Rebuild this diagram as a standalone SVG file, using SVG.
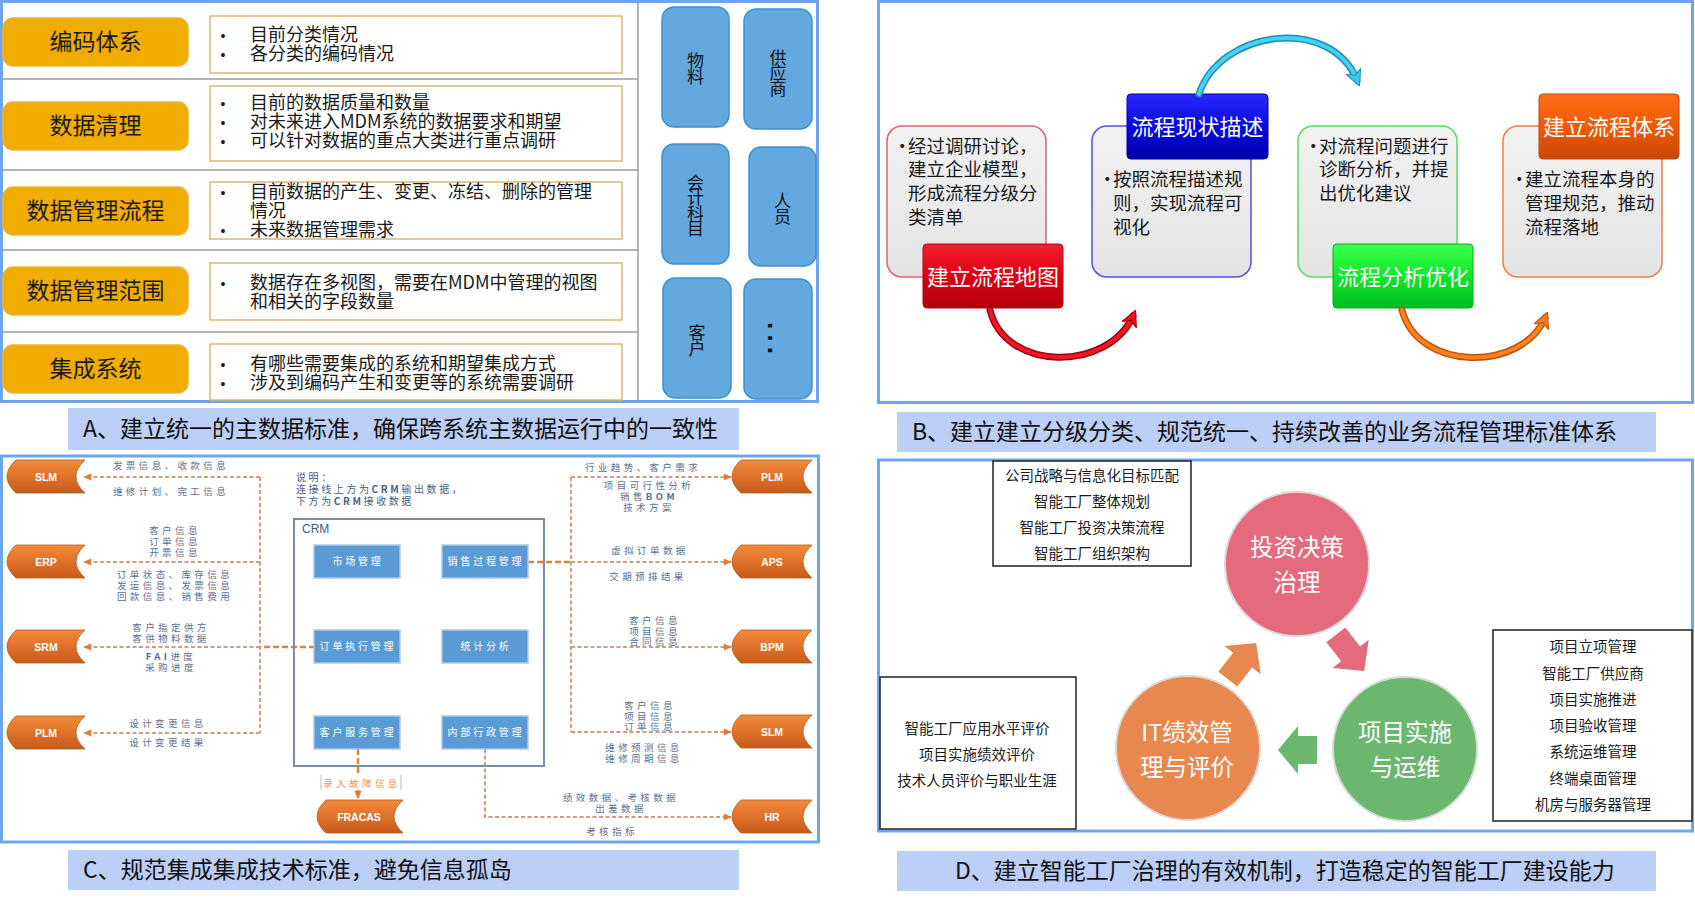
<svg xmlns="http://www.w3.org/2000/svg" width="1695" height="898" viewBox="0 0 1695 898">
<defs>
<style>
.panel{fill:#fff;stroke:#6EA6EE;stroke-width:3}
.cap{fill:#BCCFF7}
.capt{font-family:"Noto Sans CJK SC","Noto Sans",sans-serif;font-size:23px;fill:#111}
.ob{fill:#F1AC00;stroke:#EDB33A;stroke-width:1.5}
.obt{font-family:"Noto Sans CJK SC",sans-serif;font-size:23px;fill:#1a1a1a;text-anchor:middle}
.tb{fill:#fff;stroke:#D5B977;stroke-width:1.5}
.bt{font-family:"Noto Sans CJK SC",sans-serif;font-size:18px;fill:#1a1a1a}
.bul{font-family:"Liberation Sans",sans-serif;font-size:14px;fill:#1a1a1a;text-anchor:middle}
.sep{stroke:#9a9a9a;stroke-width:1.5}
.tile{fill:#64A8E0;stroke:#3D90D0;stroke-width:1.5}
.tilet{font-family:"Noto Sans CJK SC",sans-serif;font-size:17px;fill:#111;text-anchor:middle;writing-mode:vertical-rl;text-orientation:upright;letter-spacing:-1.5px}
.card{stroke-width:1.5}
.cardt{font-family:"Noto Sans CJK SC",sans-serif;font-size:18.5px;fill:#1a1a1a}
.lab{font-family:"Noto Sans CJK SC",sans-serif;font-size:22px;fill:#fff;text-anchor:middle}
.sys{fill:url(#og);stroke:#B85A20;stroke-width:0.8}
.syst{font-family:"Liberation Sans",Arial,sans-serif;font-weight:bold;font-size:10.5px;fill:#fff;text-anchor:middle}
.ib{fill:#5B9BD5;stroke:#A9C8E8;stroke-width:1.5}
.ibt{font-family:"Noto Sans CJK SC",sans-serif;font-size:10px;letter-spacing:2.8px;fill:#fff;text-anchor:middle}
.lbl{font-family:"Noto Sans CJK SC",sans-serif;font-size:9.5px;letter-spacing:3.4px;fill:#5C6F8E;text-anchor:middle}
.note{font-family:"Noto Sans CJK SC",sans-serif;font-size:10px;letter-spacing:2.6px;fill:#4C5E80}
.dl{fill:none;stroke:#CF9C84;stroke-width:2;stroke-dasharray:4 2.5}
.dlo{fill:none;stroke:#E57F3A;stroke-width:2.5;stroke-dasharray:6 3}
.db{fill:#fff;stroke:#222;stroke-width:1.5}
.dt{font-family:"Noto Sans CJK SC",sans-serif;font-size:14.5px;fill:#1a1a1a;text-anchor:middle}
.ct{font-family:"Noto Sans CJK SC",sans-serif;font-size:23.5px;fill:#fff;text-anchor:middle}
.circ{stroke:#d9d9d9;stroke-width:2}
</style>
<linearGradient id="og" x1="0" y1="0" x2="0" y2="1"><stop offset="0" stop-color="#F38A3A"/><stop offset="1" stop-color="#C85A1A"/></linearGradient>
<linearGradient id="cg" x1="0" y1="0" x2="0" y2="1"><stop offset="0" stop-color="#F3F3F3"/><stop offset="1" stop-color="#E3E3E3"/></linearGradient>
<linearGradient id="gr" x1="0" y1="0" x2="0" y2="1"><stop offset="0" stop-color="#F22030"/><stop offset="0.5" stop-color="#DD0012"/><stop offset="1" stop-color="#B0000C"/></linearGradient>
<linearGradient id="gb" x1="0" y1="0" x2="0" y2="1"><stop offset="0" stop-color="#2828FF"/><stop offset="0.5" stop-color="#0A0AE0"/><stop offset="1" stop-color="#0000A8"/></linearGradient>
<linearGradient id="gg" x1="0" y1="0" x2="0" y2="1"><stop offset="0" stop-color="#3CFF4C"/><stop offset="0.5" stop-color="#10E828"/><stop offset="1" stop-color="#00BC20"/></linearGradient>
<linearGradient id="go" x1="0" y1="0" x2="0" y2="1"><stop offset="0" stop-color="#FF6E14"/><stop offset="0.5" stop-color="#F05A08"/><stop offset="1" stop-color="#C84806"/></linearGradient>
<marker id="ah" viewBox="0 0 10 10" refX="9" refY="5" markerWidth="9" markerHeight="8" markerUnits="userSpaceOnUse" orient="auto"><path d="M0,0.5 L10,5 L0,9.5 z" fill="#E57A35"/></marker>
<marker id="mr" viewBox="0 0 10 10" refX="6" refY="5" markerWidth="16" markerHeight="16" markerUnits="userSpaceOnUse" orient="auto"><path d="M0,0 L10,5 L0,10 L3,5 z" fill="#E8101E" stroke="#9A0010" stroke-width="0.6"/></marker>
<marker id="mc" viewBox="0 0 10 10" refX="6" refY="5" markerWidth="16" markerHeight="16" markerUnits="userSpaceOnUse" orient="auto"><path d="M0,0 L10,5 L0,10 L3,5 z" fill="#3CC8E8" stroke="#1A90B8" stroke-width="0.6"/></marker>
<marker id="mo" viewBox="0 0 10 10" refX="6" refY="5" markerWidth="16" markerHeight="16" markerUnits="userSpaceOnUse" orient="auto"><path d="M0,0 L10,5 L0,10 L3,5 z" fill="#F47A20" stroke="#C0500A" stroke-width="0.6"/></marker>
</defs>

<rect width="1695" height="898" fill="#fff"/>

<!-- Panel A -->
<g id="panelA">
<rect class="panel" x="1.5" y="1.5" width="816" height="400"/>
<g class="sep">
<line x1="3" y1="79" x2="638" y2="79"/>
<line x1="3" y1="170" x2="638" y2="170"/>
<line x1="3" y1="250" x2="638" y2="250"/>
<line x1="3" y1="332" x2="638" y2="332"/>
<line x1="638" y1="3" x2="638" y2="400"/>
</g>
<g id="a-row1">
<rect class="ob" x="3" y="18" width="185" height="48" rx="10"/>
<text class="obt" x="95.5" y="50">编码体系</text>
<rect class="tb" x="210" y="16" width="412" height="57"/>
<text class="bul"><tspan x="223" y="41">•</tspan><tspan x="223" y="60">•</tspan></text>
<text class="bt"><tspan x="250" y="41">目前分类情况</tspan><tspan x="250" y="60">各分类的编码情况</tspan></text>
</g>
<g id="a-row2">
<rect class="ob" x="3" y="102" width="185" height="48" rx="10"/>
<text class="obt" x="95.5" y="134">数据清理</text>
<rect class="tb" x="210" y="86" width="412" height="75"/>
<text class="bul"><tspan x="223" y="109">•</tspan><tspan x="223" y="128">•</tspan><tspan x="223" y="147">•</tspan></text>
<text class="bt"><tspan x="250" y="109">目前的数据质量和数量</tspan><tspan x="250" y="128">对未来进入MDM系统的数据要求和期望</tspan><tspan x="250" y="147">可以针对数据的重点大类进行重点调研</tspan></text>
</g>
<g id="a-row3">
<rect class="ob" x="3" y="187" width="185" height="48" rx="10"/>
<text class="obt" x="95.5" y="219">数据管理流程</text>
<rect class="tb" x="210" y="182" width="412" height="57"/>
<text class="bul"><tspan x="223" y="198">•</tspan><tspan x="223" y="236">•</tspan></text>
<text class="bt"><tspan x="250" y="198">目前数据的产生、变更、冻结、删除的管理</tspan><tspan x="250" y="217">情况</tspan><tspan x="250" y="236">未来数据管理需求</tspan></text>
</g>
<g id="a-row4">
<rect class="ob" x="3" y="267" width="185" height="48" rx="10"/>
<text class="obt" x="95.5" y="299">数据管理范围</text>
<rect class="tb" x="210" y="263" width="412" height="57"/>
<text class="bul" x="223" y="289">•</text>
<text class="bt"><tspan x="250" y="289">数据存在多视图，需要在MDM中管理的视图</tspan><tspan x="250" y="308">和相关的字段数量</tspan></text>
</g>
<g id="a-row5">
<rect class="ob" x="3" y="345" width="185" height="48" rx="10"/>
<text class="obt" x="95.5" y="377">集成系统</text>
<rect class="tb" x="210" y="344" width="412" height="56"/>
<text class="bul"><tspan x="223" y="370">•</tspan><tspan x="223" y="389">•</tspan></text>
<text class="bt"><tspan x="250" y="370">有哪些需要集成的系统和期望集成方式</tspan><tspan x="250" y="389">涉及到编码产生和变更等的系统需要调研</tspan></text>
</g>
<g id="a-tile-wuliao"><rect class="tile" x="662" y="7" width="67" height="120" rx="12"/>
<text class="tilet" x="695.5" y="68">物料</text></g>
<g id="a-tile-gys"><rect class="tile" x="744" y="9" width="68" height="120" rx="12"/>
<text class="tilet" x="778" y="72">供应商</text></g>
<g id="a-tile-kj"><rect class="tile" x="662" y="144" width="67" height="120" rx="12"/>
<text class="tilet" x="695.5" y="205">会计科目</text></g>
<g id="a-tile-ry"><rect class="tile" x="749" y="147" width="67" height="119" rx="12"/>
<text class="tilet" x="782.5" y="208">人员</text></g>
<g id="a-tile-kh"><rect class="tile" x="663" y="278" width="68" height="120" rx="12"/>
<text class="tilet" x="697" y="340">客户</text></g>
<g id="a-tile-more"><rect class="tile" x="744" y="279" width="68" height="120" rx="12"/>
<text x="770" y="340" transform="rotate(90 770 338)" font-family="Liberation Sans, sans-serif" font-size="39" fill="#111" text-anchor="middle">…</text></g>
</g>
<g id="capA"><rect class="cap" x="68" y="408" width="671" height="42"/>
<text class="capt" x="83" y="437" font-size="24">A、建立统一的主数据标准，确保跨系统主数据运行中的一致性</text></g>

<!-- Panel B -->
<g id="panelB">
<rect class="panel" x="878.5" y="1.5" width="814" height="401"/>
<g id="b-card1">
<rect class="card" x="887" y="126" width="159" height="151" rx="15" fill="url(#cg)" stroke="#E36070"/>
<text class="cardt"><tspan x="893" y="153">•</tspan><tspan x="908" y="153">经过调研讨论，</tspan><tspan x="908" y="176">建立企业模型，</tspan><tspan x="908" y="200">形成流程分级分</tspan><tspan x="908" y="224">类清单</tspan></text>
<rect x="923" y="244" width="140" height="64" rx="4" fill="url(#gr)" stroke="#C00010"/>
<text class="lab" x="993" y="285">建立流程地图</text>
</g>
<g id="b-card2">
<rect class="card" x="1092" y="126" width="159" height="151" rx="15" fill="url(#cg)" stroke="#5050E8"/>
<text class="cardt"><tspan x="1098" y="186">•</tspan><tspan x="1113" y="186">按照流程描述规</tspan><tspan x="1113" y="210">则，实现流程可</tspan><tspan x="1113" y="234">视化</tspan></text>
<rect x="1127" y="94" width="141" height="65" rx="4" fill="url(#gb)" stroke="#0000A0"/>
<text class="lab" x="1197.5" y="135">流程现状描述</text>
</g>
<g id="b-card3">
<rect class="card" x="1298" y="126" width="159" height="151" rx="15" fill="url(#cg)" stroke="#50E060"/>
<text class="cardt"><tspan x="1304" y="153">•</tspan><tspan x="1319" y="153">对流程问题进行</tspan><tspan x="1319" y="176">诊断分析，并提</tspan><tspan x="1319" y="200">出优化建议</tspan></text>
<rect x="1333" y="244" width="140" height="64" rx="4" fill="url(#gg)" stroke="#00B020"/>
<text class="lab" x="1403" y="285">流程分析优化</text>
</g>
<g id="b-card4">
<rect class="card" x="1503" y="126" width="159" height="151" rx="15" fill="url(#cg)" stroke="#F08040"/>
<text class="cardt"><tspan x="1510" y="186">•</tspan><tspan x="1525" y="186">建立流程本身的</tspan><tspan x="1525" y="210">管理规范，推动</tspan><tspan x="1525" y="234">流程落地</tspan></text>
<rect x="1539" y="94" width="140" height="65" rx="4" fill="url(#go)" stroke="#C04808"/>
<text class="lab" x="1609" y="135">建立流程体系</text>
</g>
<g id="b-connectors" fill="none" stroke-linecap="round">
<path d="M990,310 C1005,372 1108,372 1133,316" stroke="#9A0010" stroke-width="7"/>
<path d="M990,310 C1005,372 1108,372 1133,316" stroke="#EE1826" stroke-width="4" marker-end="url(#mr)"/>
<path d="M1199,94 C1220,30 1330,15 1357,80" stroke="#1A90B8" stroke-width="7"/>
<path d="M1199,94 C1220,30 1330,15 1357,80" stroke="#48D0F0" stroke-width="4" marker-end="url(#mc)"/>
<path d="M1402,310 C1418,372 1522,372 1545,318" stroke="#C0500A" stroke-width="7"/>
<path d="M1402,310 C1418,372 1522,372 1545,318" stroke="#F8821E" stroke-width="4" marker-end="url(#mo)"/>
</g>
</g>
<g id="capB"><rect class="cap" x="897" y="412" width="759" height="40"/>
<text class="capt" x="912" y="440">B、建立建立分级分类、规范统一、持续改善的业务流程管理标准体系</text></g>

<!-- Panel C -->
<g id="panelC">
<rect class="panel" x="1.5" y="456" width="817" height="386"/>
<g id="c-note">
<text class="note"><tspan x="296" y="481">说明：</tspan><tspan x="296" y="493">连接线上方为<tspan font-weight="bold">CRM</tspan>输出数据，</tspan><tspan x="296" y="505">下方为<tspan font-weight="bold">CRM</tspan>接收数据</tspan></text>
</g>
<g id="c-connectors">
<path class="dl" d="M260,477 V733"/>
<path class="dl" d="M260,477 H84" marker-end="url(#ah)"/>
<path class="dl" d="M260,562 H84" marker-end="url(#ah)"/>
<path class="dl" d="M260,647 H84" marker-end="url(#ah)"/>
<path class="dl" d="M260,733 H84" marker-end="url(#ah)"/>
<path class="dlo" d="M315,647 H260"/>
<path class="dl" d="M571,477 V732"/>
<path class="dl" d="M571,477 H731" marker-end="url(#ah)"/>
<path class="dl" d="M571,562 H731" marker-end="url(#ah)"/>
<path class="dl" d="M571,647 H731" marker-end="url(#ah)"/>
<path class="dl" d="M571,732 H731" marker-end="url(#ah)"/>
<path class="dlo" d="M528,562 H571"/>
<path class="dl" d="M485,749 V817 H731" marker-end="url(#ah)"/>
<path class="dlo" d="M358,749 V798" stroke-width="2" marker-end="url(#ah)"/>
<rect x="321" y="776" width="80" height="14" fill="#fff"/>
<line x1="321" y1="775" x2="321" y2="790" stroke="#bbb"/>
<line x1="401" y1="775" x2="401" y2="790" stroke="#bbb"/>
<text class="lbl" x="362" y="787" style="fill:#E8935A">录入故障信息</text>
</g>
<g id="c-labels">
<text class="lbl" x="171" y="469">发票信息、收款信息</text>
<text class="lbl" x="171" y="495">维修计划、完工信息</text>
<text class="lbl"><tspan x="175" y="534">客户信息</tspan><tspan x="175" y="545">订单信息</tspan><tspan x="175" y="556">开票信息</tspan></text>
<text class="lbl"><tspan x="175" y="578">订单状态、库存信息</tspan><tspan x="175" y="589">发运信息、发票信息</tspan><tspan x="175" y="600">回款信息、销售费用</tspan></text>
<text class="lbl"><tspan x="171" y="631">客户指定供方</tspan><tspan x="171" y="642">客供物料数据</tspan></text>
<text class="lbl"><tspan x="171" y="660"><tspan font-weight="bold">FAI</tspan>进度</tspan><tspan x="171" y="671">采购进度</tspan></text>
<text class="lbl" x="168" y="727">设计变更信息</text>
<text class="lbl" x="168" y="746">设计变更结果</text>
<text class="lbl" x="643" y="471">行业趋势、客户需求</text>
<text class="lbl"><tspan x="649" y="489">项目可行性分析</tspan><tspan x="649" y="500">销售<tspan font-weight="bold">BOM</tspan></tspan><tspan x="649" y="511">技术方案</tspan></text>
<text class="lbl" x="650" y="554">虚拟订单数据</text>
<text class="lbl" x="648" y="580">交期预排结果</text>
<text class="lbl"><tspan x="655" y="624">客户信息</tspan><tspan x="655" y="635">项目信息</tspan><tspan x="655" y="645">合同信息</tspan></text>
<text class="lbl"><tspan x="650" y="709">客户信息</tspan><tspan x="650" y="720">项目信息</tspan><tspan x="650" y="730">订单信息</tspan></text>
<text class="lbl"><tspan x="644" y="751">维修预测信息</tspan><tspan x="644" y="762">维修周期信息</tspan></text>
<text class="lbl"><tspan x="621" y="801">绩效数据、考核数据</tspan><tspan x="621" y="812">出差数据</tspan></text>
<text class="lbl" x="612" y="835">考核指标</text>
</g>
<g id="c-crm">
<rect x="294" y="519" width="250" height="247" fill="none" stroke="#7A8CA6" stroke-width="2"/>
<text x="302" y="533" font-family="Liberation Sans, sans-serif" font-size="12" fill="#3C5A88">CRM</text>
<g id="c-scgl"><rect class="ib" x="314" y="545" width="86" height="33"/><text class="ibt" x="358" y="565">市场管理</text></g>
<g id="c-xsgc"><rect class="ib" x="442" y="545" width="86" height="33"/><text class="ibt" x="486" y="565">销售过程管理</text></g>
<g id="c-ddzx"><rect class="ib" x="314" y="630" width="86" height="33"/><text class="ibt" x="358" y="650">订单执行管理</text></g>
<g id="c-tjfx"><rect class="ib" x="442" y="630" width="86" height="33"/><text class="ibt" x="486" y="650">统计分析</text></g>
<g id="c-khfw"><rect class="ib" x="314" y="716" width="86" height="33"/><text class="ibt" x="358" y="736">客户服务管理</text></g>
<g id="c-nbxz"><rect class="ib" x="442" y="716" width="86" height="33"/><text class="ibt" x="486" y="736">内部行政管理</text></g>
</g>
<g id="c-slm-l"><path class="sys" d="M16,460 H85 Q67,476.5 85,493 H16 Q-2,476.5 16,460 Z"/><text class="syst" x="46" y="480.5">SLM</text></g>
<g id="c-erp"><path class="sys" d="M16,545 H85 Q67,561.5 85,578 H16 Q-2,561.5 16,545 Z"/><text class="syst" x="46" y="565.5">ERP</text></g>
<g id="c-srm"><path class="sys" d="M16,630 H85 Q67,646.5 85,663 H16 Q-2,646.5 16,630 Z"/><text class="syst" x="46" y="650.5">SRM</text></g>
<g id="c-plm-l"><path class="sys" d="M16,716 H85 Q67,732.5 85,749 H16 Q-2,732.5 16,716 Z"/><text class="syst" x="46" y="736.5">PLM</text></g>
<g id="c-plm-r"><path class="sys" d="M741,460 H812 Q794,476.5 812,493 H741 Q723,476.5 741,460 Z"/><text class="syst" x="772" y="480.5">PLM</text></g>
<g id="c-aps"><path class="sys" d="M741,545 H812 Q794,561.5 812,578 H741 Q723,561.5 741,545 Z"/><text class="syst" x="772" y="565.5">APS</text></g>
<g id="c-bpm"><path class="sys" d="M741,630 H812 Q794,646.5 812,663 H741 Q723,646.5 741,630 Z"/><text class="syst" x="772" y="650.5">BPM</text></g>
<g id="c-slm-r"><path class="sys" d="M741,715 H812 Q794,731.5 812,748 H741 Q723,731.5 741,715 Z"/><text class="syst" x="772" y="735.5">SLM</text></g>
<g id="c-hr"><path class="sys" d="M741,800 H812 Q794,816.5 812,833 H741 Q723,816.5 741,800 Z"/><text class="syst" x="772" y="820.5">HR</text></g>
<g id="c-fracas"><path class="sys" d="M326,800 H403 Q385,816.5 403,833 H326 Q308,816.5 326,800 Z"/><text class="syst" x="359" y="820.5">FRACAS</text></g>
</g>
<g id="capC"><rect class="cap" x="68" y="850" width="671" height="40"/>
<text class="capt" x="83" y="878">C、规范集成集成技术标准，避免信息孤岛</text></g>

<!-- Panel D -->
<g id="panelD">
<rect class="panel" x="878.5" y="460" width="814" height="371"/>
<g id="d-box-top"><rect class="db" x="993" y="461" width="198" height="105"/>
<text class="dt"><tspan x="1092" y="481">公司战略与信息化目标匹配</tspan><tspan x="1092" y="507">智能工厂整体规划</tspan><tspan x="1092" y="533">智能工厂投资决策流程</tspan><tspan x="1092" y="559">智能工厂组织架构</tspan></text></g>
<g id="d-box-left"><rect class="db" x="880" y="677" width="196" height="152"/>
<text class="dt"><tspan x="977" y="734">智能工厂应用水平评价</tspan><tspan x="977" y="760">项目实施绩效评价</tspan><tspan x="977" y="786">技术人员评价与职业生涯</tspan></text></g>
<g id="d-box-right"><rect class="db" x="1493" y="630" width="199" height="191"/>
<text class="dt"><tspan x="1593" y="652">项目立项管理</tspan><tspan x="1593" y="679">智能工厂供应商</tspan><tspan x="1593" y="705">项目实施推进</tspan><tspan x="1593" y="731">项目验收管理</tspan><tspan x="1593" y="757">系统运维管理</tspan><tspan x="1593" y="784">终端桌面管理</tspan><tspan x="1593" y="810">机房与服务器管理</tspan></text></g>
<g id="d-invest"><circle class="circ" cx="1297" cy="564" r="72" fill="#E46A7E"/>
<text class="ct"><tspan x="1297" y="556">投资决策</tspan><tspan x="1297" y="591">治理</tspan></text></g>
<g id="d-impl"><circle class="circ" cx="1405" cy="749" r="72" fill="#6CB76E"/>
<text class="ct"><tspan x="1405" y="741">项目实施</tspan><tspan x="1405" y="776">与运维</tspan></text></g>
<g id="d-it"><circle class="circ" cx="1188" cy="748" r="72" fill="#E8884E"/>
<text class="ct"><tspan x="1187" y="741">IT绩效管</tspan><tspan x="1187" y="776">理与评价</tspan></text></g>
<g id="d-arrows">
<polygon points="-23,-12 1,-12 1,-23 23,0 1,23 1,12 -23,12" fill="#E8884E" transform="translate(1242 661) rotate(-52)"/>
<polygon points="-23,-12 1,-12 1,-23 23,0 1,23 1,12 -23,12" fill="#E46A7E" transform="translate(1350 653) rotate(52)"/>
<polygon points="1278,750 1298,726 1298,736 1317,736 1317,764 1298,764 1298,774" fill="#6CB76E"/>
</g>
</g>
<g id="capD"><rect class="cap" x="897" y="851" width="759" height="40"/>
<text class="capt" x="955" y="879">D、建立智能工厂治理的有效机制，打造稳定的智能工厂建设能力</text></g>
</svg>
